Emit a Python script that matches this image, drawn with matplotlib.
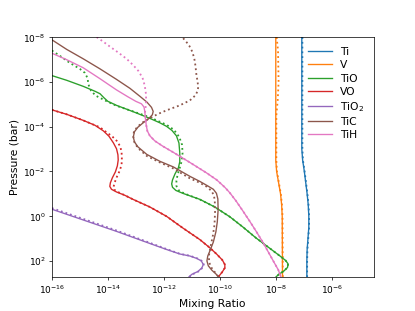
import numpy as np
import matplotlib
matplotlib.use('Agg')
import matplotlib.pyplot as plt

# log10 pressure (bar) and log10 mixing ratio; solid = model A, dotted = model B
ti_p = [-8.0, -5.2, -3.0, -2.5, -2.0, -1.5, -1.0, -0.5, 0.0, 0.5, 1.0, 1.5, 2.0, 2.72]
ti_x = [-7.07, -7.07, -7.07, -7.04, -6.98, -6.93, -6.88, -6.84, -6.82, -6.82, -6.85, -6.88, -6.89, -6.89]
ti_p_dot = [-8.0, -5.2, -3.0, -2.5, -2.0, -1.5, -1.0, -0.5, 0.0, 0.5, 1.0, 1.5, 2.0, 2.72]
ti_x_dot = [-7.05, -7.05, -7.05, -7.03, -6.97, -6.92, -6.87, -6.83, -6.81, -6.81, -6.84, -6.87, -6.88, -6.88]

v_p = [-8.0, -5.0, -2.5, -2.0, -1.5, -1.0, -0.5, 0.0, 2.72]
v_x = [-8.0, -8.0, -8.0, -7.97, -7.90, -7.83, -7.79, -7.77, -7.76]
v_p_dot = [-8.0, -7.4, -6.0, -5.2, -4.5, -2.5, -2.0, -1.5, -1.0, -0.5, 0.0, 2.72]
v_x_dot = [-7.97, -7.92, -7.9, -7.93, -7.98, -7.98, -7.96, -7.89, -7.82, -7.78, -7.76, -7.75]

tio_p = [-6.28, -6.07, -5.80, -5.58, -5.47, -5.29, -5.13, -4.95, -4.67, -4.37, -4.17, -4.01,
         -3.83, -3.59, -3.27, -2.83, -2.43, -2.16, -1.89, -1.62, -1.44, -1.29, -1.15, -1.02,
         -0.75, -0.41, 0.03, 0.48, 0.97, 1.44, 1.78, 1.98, 2.13, 2.29, 2.45, 2.60, 2.71]
tio_x = [-16.0, -15.47, -14.88, -14.46, -14.28, -14.14, -14.0, -13.69, -13.10, -12.50, -12.14, -11.90,
         -11.71, -11.55, -11.46, -11.43, -11.43, -11.48, -11.60, -11.69, -11.72, -11.69, -11.57, -11.32,
         -10.71, -10.18, -9.64, -9.18, -8.71, -8.21, -7.85, -7.65, -7.56, -7.58, -7.71, -7.89, -7.99]
tio_p_dot = [-7.40, -7.16, -6.85, -6.58, -6.40, -6.18, -5.87, -5.60, -5.38, -5.17, -4.93, -4.68,
             -4.42, -4.08, -3.86, -3.54, -3.19, -2.83, -2.47, -2.16, -1.84, -1.58, -1.35, -1.17,
             -1.02, -0.74, -0.41, 0.03, 0.48, 0.97, 1.44, 1.78, 1.98, 2.13, 2.29, 2.45, 2.60, 2.71]
tio_x_dot = [-16.0, -15.71, -15.36, -15.0, -14.82, -14.73, -14.69, -14.60, -14.43, -14.10, -13.69, -13.10,
             -12.50, -11.90, -11.64, -11.45, -11.35, -11.33, -11.36, -11.43, -11.51, -11.55, -11.55, -11.48,
             -11.28, -10.71, -10.18, -9.64, -9.18, -8.71, -8.21, -7.85, -7.65, -7.56, -7.58, -7.71, -7.89, -7.99]

vo_p = [-4.75, -4.55, -4.28, -4.06, -3.81, -3.57, -3.27, -3.01, -2.74, -2.51, -2.25, -1.98,
        -1.71, -1.49, -1.33, -1.20, -1.08, -0.93, -0.75, -0.41, 0.01, 0.53, 1.05, 1.42,
        1.71, 1.96, 2.16, 2.31, 2.49, 2.71]
vo_x = [-16.0, -15.47, -14.88, -14.46, -14.16, -13.96, -13.80, -13.69, -13.64, -13.63, -13.66, -13.73,
        -13.84, -13.91, -13.93, -13.87, -13.69, -13.39, -13.10, -12.50, -11.90, -11.32, -10.71, -10.35,
        -10.10, -9.91, -9.82, -9.82, -9.91, -10.05]
vo_p_dot = [-4.75, -4.55, -4.28, -4.06, -3.97, -3.74, -3.57, -3.36, -3.12, -2.87, -2.60, -2.29,
            -2.02, -1.75, -1.49, -1.29, -1.17, -1.08, -0.93, -0.75, -0.41, 0.01, 0.53, 1.05,
            1.42, 1.71, 1.96, 2.16, 2.31, 2.49, 2.71]
vo_x_dot = [-16.0, -15.47, -14.88, -14.46, -14.28, -14.04, -13.85, -13.68, -13.56, -13.51, -13.50, -13.51,
            -13.58, -13.68, -13.76, -13.80, -13.76, -13.64, -13.39, -13.10, -12.50, -11.90, -11.32, -10.71,
            -10.35, -10.10, -9.91, -9.82, -9.82, -9.91, -10.05]

tio2_p = [-0.31, 0.17, 0.68, 1.22, 1.49, 1.69, 1.78, 1.89, 2.00, 2.16, 2.31, 2.47, 2.60, 2.71]
tio2_x = [-16.0, -14.88, -13.69, -12.50, -11.90, -11.43, -11.07, -10.82, -10.66, -10.59, -10.64, -10.78, -11.0, -11.10]
tio2_p_dot = [-0.36, 0.12, 0.64, 1.19, 1.47, 1.68, 1.77, 1.89, 2.00, 2.16, 2.31, 2.47, 2.60, 2.71]
tio2_x_dot = [-16.0, -14.88, -13.69, -12.50, -11.90, -11.43, -11.06, -10.80, -10.64, -10.57, -10.62, -10.76, -10.98, -11.08]

tic_p = [-7.88, -7.45, -7.03, -6.58, -6.11, -5.71, -5.35, -5.09, -4.86, -4.68, -4.53, -4.37,
         -4.17, -3.97, -3.77, -3.54, -3.32, -3.10, -2.76, -2.45, -2.20, -1.78, -1.55, -1.35,
         -1.20, -1.02, -0.77, -0.28, 0.26, 0.70, 1.15, 1.51, 1.78, 2.0, 2.22, 2.42, 2.58, 2.71]
tic_x = [-16.0, -15.47, -14.88, -14.28, -13.69, -13.21, -12.85, -12.60, -12.44, -12.38, -12.41, -12.53,
         -12.74, -12.93, -13.05, -13.09, -13.05, -12.93, -12.61, -12.14, -11.66, -11.07, -10.71, -10.43,
         -10.23, -10.12, -10.07, -10.06, -10.09, -10.14, -10.23, -10.34, -10.43, -10.46, -10.41, -10.28, -10.14, -10.05]
tic_p_dot = [-7.95, -7.81, -7.61, -7.34, -7.03, -6.72, -6.36, -6.05, -5.78, -5.60, -5.40, -5.17,
             -4.95, -4.73, -4.57, -4.38, -4.17, -3.97, -3.77, -3.54, -3.30, -3.05, -2.69, -2.40,
             -2.13, -1.69, -1.49, -1.31, -1.13, -0.93, -0.68, -0.19, 0.39, 0.88, 1.42, 1.78,
             2.07, 2.34, 2.56, 2.71]
tic_x_dot = [-11.31, -11.21, -11.09, -10.98, -10.91, -10.87, -10.84, -10.80, -10.77, -10.79, -10.87, -11.07,
             -11.43, -11.90, -12.20, -12.50, -12.78, -12.96, -13.07, -13.09, -13.05, -12.93, -12.61, -12.14,
             -11.66, -11.07, -10.71, -10.46, -10.30, -10.21, -10.18, -10.17, -10.19, -10.25, -10.34, -10.39,
             -10.38, -10.28, -10.14, -10.05]

tih_p = [-7.28, -6.99, -6.63, -6.14, -5.64, -5.33, -5.13, -5.02, -4.88, -4.68, -4.39, -4.08,
         -3.81, -3.59, -3.36, -3.12, -2.85, -2.40, -1.93, -1.62, -1.29, -1.04, -0.68, -0.24,
         0.23, 0.70, 1.17, 1.64, 2.09, 2.40, 2.71]
tih_x = [-16.0, -15.47, -14.88, -14.28, -13.69, -13.28, -13.0, -12.80, -12.71, -12.68, -12.66, -12.63,
         -12.59, -12.50, -12.32, -12.03, -11.66, -11.07, -10.47, -10.11, -9.82, -9.64, -9.42, -9.18,
         -8.93, -8.69, -8.46, -8.25, -8.05, -7.91, -7.82]
tih_p_dot = [-8.0, -7.81, -7.57, -7.32, -7.03, -6.74, -6.49, -6.18, -5.82, -5.47, -5.15, -4.88,
             -4.66, -4.39, -4.08, -3.81, -3.59, -3.36, -3.12, -2.85, -2.40, -1.93, -1.62, -1.29,
             -1.04, -0.68, -0.24, 0.23, 0.70, 1.17, 1.64, 2.09, 2.40, 2.71]
tih_x_dot = [-14.40, -14.18, -13.92, -13.64, -13.33, -13.09, -12.91, -12.76, -12.68, -12.64, -12.63, -12.65,
             -12.67, -12.66, -12.63, -12.59, -12.50, -12.32, -12.03, -11.66, -11.07, -10.47, -10.11, -9.82,
             -9.64, -9.42, -9.18, -8.93, -8.69, -8.46, -8.25, -8.05, -7.91, -7.82]

labels = ['Ti', 'V', 'TiO', 'VO', 'TiO$_2$', 'TiC', 'TiH']
solid = [(ti_x, ti_p), (v_x, v_p), (tio_x, tio_p), (vo_x, vo_p),
         (tio2_x, tio2_p), (tic_x, tic_p), (tih_x, tih_p)]
dotted = [(ti_x_dot, ti_p_dot), (v_x_dot, v_p_dot), (tio_x_dot, tio_p_dot), (vo_x_dot, vo_p_dot),
          (tio2_x_dot, tio2_p_dot), (tic_x_dot, tic_p_dot), (tih_x_dot, tih_p_dot)]

fig, ax = plt.subplots(figsize=(6.4, 4.8), dpi=64.84375)

for i, (lab, (sx, sp), (dx, dp)) in enumerate(zip(labels, solid, dotted)):
	c = 'C%d' % i
	ax.plot(10**np.array(sx), 10**np.array(sp), color=c, label=lab)
	ax.plot(10**np.array(dx), 10**np.array(dp), color=c, ls=':', lw=2)

ax.set_xscale('log')
ax.set_yscale('log')
ax.set_xlim(1e-16, 3.1e-5)
ax.set_ylim(5.1e2, 1e-8)
ax.set_xlabel('Mixing Ratio', fontsize=12)
ax.set_ylabel('Pressure (bar)', fontsize=12)
ax.legend(loc='upper right', frameon=False, fontsize=12, labelspacing=0.3,
	handlelength=2.2, handletextpad=0.7, borderaxespad=0.5)

fig.savefig('out.png', dpi=64.84375)
